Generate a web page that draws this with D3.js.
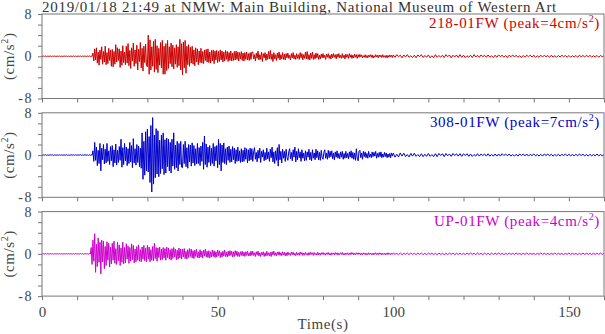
<!DOCTYPE html>
<html>
<head>
<meta charset="utf-8">
<script src="https://cdn.jsdelivr.net/npm/d3@7"></script>
<style>
  html, body { margin: 0; padding: 0; background: #fff; }
  svg { display: block; }
  text { font-family: "Liberation Serif", "Times New Roman", serif; }
</style>
</head>
<body>
<svg id="chart" width="605" height="334"></svg>
<script>
// ---------------- DATA ----------------
const titleText = "2019/01/18 21:49 at NMW: Main Building, National Museum of Western Art";
const channelNames = ["218-01FW", "308-01FW", "UP-01FW"];
const channelPeaks = [4, 7, 4];
const xTickLabels = [0, 50, 100, 150];
const yTickLabels = [-8, 0, 8];
// early part: 0 – 99.75 s sampled every 0.25 s; late part: 100 – 160 s every 0.5 s
const earlyInterval = 0.25;
const lateStart = 100;
const lateInterval = 0.5;

// 218-01FW acceleration (cm/s^2), one row = 10 s
const ch218Early = [
  0.03,-0.04,0.05,-0.02,0.04,-0.05,0.02,-0.04,0.05,-0.03,0.04,-0.05,0.03,-0.02,0.05,-0.04,0.03,-0.05,0.04,-0.03,
  0.05,-0.04,0.02,-0.05,0.04,-0.03,0.05,-0.02,0.04,-0.05,0.03,-0.04,0.05,-0.03,0.02,-0.04,0.05,-0.03,0.04,-0.05,
  0.03,-0.04,0.05,-0.03,0.04,-0.05,0.03,-0.04,0.06,-0.05,0.04,-0.06,0.05,-0.04,0.06,-0.05,0.04,-0.06,
  0.6,-0.9,1.4,-0.7,1.6,-1.3,0.8,-1.7,1.2,-0.6,1.8,-1.5,0.9,-1.1,1.9,-1.6,0.7,-1.4,1.5,-0.8,1.2,-1.9,
  1.3,-2.0,0.9,-1.5,2.2,-1.1,1.6,-0.8,1.4,-2.1,1.0,-1.7,2.0,-1.2,0.8,-1.6,1.9,-1.3,2.4,-1.8,
  1.1,-2.3,1.6,-0.9,2.5,-1.9,1.2,-1.4,2.1,-2.6,1.3,-1.0,2.6,-2.2,1.5,-2.8,1.9,-1.2,2.3,-1.7,
  -2.0,4.0,-3.4,3.1,-2.6,1.8,-1.9,2.8,-3.0,3.2,-2.5,2.0,-3.1,1.5,-1.7,2.6,-2.2,3.0,-3.4,1.9,
  -3.4,2.4,-2.7,3.0,-2.3,1.8,-1.4,2.5,-2.0,2.1,-2.4,1.6,-1.5,2.2,-2.1,1.8,-1.8,3.2,-2.6,2.4,
  -3.5,2.7,-2.2,3.0,-3.2,1.9,-1.6,2.2,-1.9,1.7,-1.3,1.9,-1.5,1.2,-1.8,1.6,-1.1,1.4,-1.6,1.0,
  -1.2,1.5,-1.3,0.9,-1.4,1.2,-0.8,1.3,-1.1,1.4,-1.2,0.8,-1.3,1.1,-0.9,1.2,-1.4,1.0,-0.7,1.1,
  -1.2,0.9,-1.0,1.2,-0.7,1.0,-1.1,0.8,-0.9,1.1,-0.6,0.9,-1.0,0.7,-0.8,1.0,-0.9,0.6,-0.8,0.9,
  -0.7,1.0,-0.6,0.8,-0.9,0.7,-0.5,0.9,-0.8,0.6,-0.9,0.7,-0.6,0.8,-0.7,0.5,-0.8,0.7,-0.6,0.8,
  0.8,-0.5,0.3,-0.9,0.6,-0.4,1.0,-0.7,0.3,-0.6,0.8,-1.0,0.5,-0.3,0.7,-0.8,0.4,-0.6,0.9,-0.5,
  1.1,-0.6,0.4,-1.0,0.7,-0.5,0.3,-0.8,0.6,-0.4,0.8,-0.7,0.3,-0.5,0.7,-0.6,0.4,-0.7,0.5,-0.3,
  0.6,-0.4,0.2,-0.7,0.5,-0.3,0.7,-0.5,0.2,-0.6,0.5,-0.4,0.3,-0.6,0.7,-0.3,0.5,-0.7,0.3,-0.4,
  0.8,-0.5,0.9,-0.6,0.3,-0.7,0.6,-0.4,0.8,-0.6,0.3,-0.5,0.6,-0.3,0.5,-0.6,0.2,-0.5,0.4,-0.3,
  0.5,-0.3,0.2,-0.6,0.4,-0.2,0.5,-0.4,0.2,-0.5,0.4,-0.3,0.5,-0.2,0.3,-0.5,0.4,-0.2,0.5,-0.3,
  0.2,-0.4,0.5,-0.3,0.2,-0.5,0.4,-0.2,0.3,-0.4,0.5,-0.2,0.3,-0.4,0.2,-0.3,0.4,-0.2,0.3,-0.4,
  0.3,-0.2,0.35,-0.1,0.25,-0.3,0.1,-0.2,0.3,-0.25,0.15,-0.3,0.2,-0.1,0.3,-0.2,0.25,-0.35,0.1,-0.2,
  0.3,-0.15,0.2,-0.3,0.25,-0.1,0.2,-0.25,0.3,-0.2,0.1,-0.25,0.2,-0.3,0.15,-0.2,0.25,-0.1,0.2,-0.25
];
const ch218Late = [
  0.25,-0.2,0.3,-0.1,0.2,-0.3,0.25,-0.15,0.3,-0.2,0.1,-0.25,0.2,-0.3,0.25,-0.1,0.3,-0.25,0.15,-0.2,
  0.25,-0.3,0.1,-0.25,0.3,-0.2,0.15,-0.2,0.2,-0.25,0.3,-0.1,0.25,-0.3,0.2,-0.15,0.25,-0.25,0.3,-0.2,
  0.2,-0.25,0.1,-0.2,0.2,-0.25,0.3,-0.15,0.2,-0.2,0.25,-0.1,0.2,-0.2,0.25,-0.2,0.1,-0.25,0.2,-0.2,
  0.25,-0.1,0.2,-0.2,0.15,-0.25,0.2,-0.1,0.25,-0.15,0.2,-0.2,0.1,-0.25,0.15,-0.2,0.2,-0.1,0.2,-0.15,
  0.2,-0.2,0.1,-0.2,0.2,-0.15,0.2,-0.1,0.15,-0.2,0.2,-0.15,0.1,-0.2,0.15,-0.15,0.2,-0.1,0.15,-0.2,
  0.15,-0.2,0.1,-0.15,0.15,-0.2,0.2,-0.1,0.15,-0.15,0.2,-0.1,0.15,-0.15,0.1,-0.15,0.15,-0.2,0.15,-0.1,
  0.1
];

// 308-01FW acceleration (cm/s^2)
const ch308Early = [
  0.05,-0.06,0.04,-0.03,0.06,-0.05,0.03,-0.06,0.05,-0.04,0.06,-0.03,0.04,-0.06,0.05,-0.04,0.03,-0.06,0.05,-0.04,
  0.06,-0.05,0.03,-0.04,0.06,-0.05,0.04,-0.03,0.06,-0.05,0.04,-0.06,0.03,-0.05,0.06,-0.04,0.05,-0.03,0.06,-0.05,
  0.04,-0.06,0.05,-0.03,0.06,-0.05,0.04,-0.06,0.05,-0.04,0.06,-0.05,0.03,-0.06,0.05,-0.04,0.06,-0.05,
  0.8,-1.2,2.4,-1.0,1.5,-2.0,0.9,-1.6,2.2,-3.0,1.3,-0.9,2.0,-1.7,1.1,-1.5,2.2,-1.2,0.8,-1.8,1.6,-1.1,
  1.8,-2.2,1.0,-1.5,2.1,-1.9,0.9,-1.4,1.6,-1.0,3.0,-2.3,1.4,-1.8,2.2,-1.1,1.5,-2.0,1.2,-1.6,
  2.4,-1.3,1.8,-2.4,3.1,-1.5,1.2,-1.9,2.0,-1.4,1.7,-2.2,1.3,-2.5,4.2,-4.6,2.6,-3.8,4.4,-3.0,
  4.9,-3.2,3.5,-5.2,5.6,-7.0,7.1,-5.5,3.8,-4.3,5.0,-3.6,4.6,-4.1,2.8,-3.5,3.8,-2.6,4.2,-3.7,
  2.9,-3.4,3.2,-2.2,3.0,-3.0,2.4,-3.4,3.0,-2.1,4.2,-2.7,1.9,-2.4,2.6,-3.0,2.2,-1.8,2.6,-2.3,
  -2.4,2.0,-1.6,2.6,-2.2,1.4,-2.5,2.0,-1.3,1.9,-2.1,2.3,-1.5,1.8,-2.0,1.2,-1.7,2.2,-1.6,1.4,
  -2.0,1.7,-1.2,2.4,-2.7,3.6,-1.8,2.1,-2.3,1.5,-1.4,1.8,-2.0,1.3,-1.6,2.2,-2.1,1.6,-1.1,1.8,
  -2.4,3.0,-1.8,2.2,-3.0,1.9,-1.4,2.3,-1.6,1.2,-1.8,1.5,-1.0,1.7,-1.4,1.1,-1.3,1.6,-0.9,1.3,
  -1.6,1.0,-1.2,1.5,-1.1,0.8,-1.4,1.2,-1.3,0.9,-1.2,1.4,-0.8,1.2,-1.5,1.0,-1.1,1.3,-0.9,1.2,
  -1.2,0.6,1.4,-0.8,0.5,-1.3,0.9,-0.6,1.3,-1.4,0.7,-0.4,1.0,-1.1,0.5,-0.9,1.3,-0.7,0.6,-1.2,
  1.1,-0.5,1.5,-1.3,0.6,-1.6,0.8,-1.0,1.4,-2.1,2.0,-0.9,0.7,-1.5,1.1,-0.6,0.7,-1.2,1.1,-0.5,
  -1.0,0.6,1.2,-0.7,0.5,-1.1,1.0,-0.4,1.5,-1.3,0.7,-0.9,1.2,-0.5,0.6,-1.2,1.0,-0.6,0.4,-1.1,
  0.8,-1.0,0.6,-0.4,1.1,-0.9,0.5,-1.1,1.0,-0.6,0.4,-0.9,1.1,-0.5,0.8,-0.9,0.5,-1.0,0.9,-0.4,
  -0.8,0.5,1.0,-0.6,0.4,-0.8,0.9,-0.5,0.7,-0.3,0.8,-0.7,0.4,-0.9,0.6,-0.4,0.8,-0.6,0.3,-0.7,
  0.6,-0.4,0.7,-0.8,0.3,-0.6,0.7,-0.5,0.3,-0.7,0.6,-0.4,0.8,-0.6,0.5,-0.8,0.4,-1.0,1.2,-0.6,
  -1.1,0.7,0.9,-0.5,0.4,-0.8,0.7,-0.3,0.6,-0.5,0.3,-0.6,0.7,-0.4,0.2,-0.5,0.6,-0.3,0.5,-0.2,
  0.7,-0.6,0.3,-0.4,0.5,-0.3,0.6,-0.5,0.2,-0.4,0.5,-0.3,0.4,-0.5,0.2,-0.4,0.3,-0.5,0.4,-0.2
];
const ch308Late = [
  0.35,-0.4,0.15,-0.35,0.4,-0.2,0.35,-0.3,0.1,-0.35,0.3,-0.2,0.35,-0.25,0.1,-0.3,0.25,-0.3,0.15,-0.25,
  0.3,-0.25,0.1,-0.3,0.25,-0.3,0.3,-0.1,0.25,-0.3,0.3,-0.15,0.2,-0.25,0.3,-0.1,0.25,-0.2,0.25,-0.25,
  0.25,-0.1,0.25,-0.25,0.2,-0.25,0.1,-0.2,0.25,-0.2,0.2,-0.1,0.2,-0.2,0.25,-0.2,0.1,-0.2,0.2,-0.2,
  0.2,-0.2,0.25,-0.1,0.2,-0.15,0.2,-0.2,0.1,-0.2,0.15,-0.2,0.2,-0.1,0.2,-0.15,0.2,-0.2,0.15,-0.1,
  0.2,-0.15,0.1,-0.2,0.15,-0.2,0.2,-0.1,0.2,-0.15,0.15,-0.2,0.1,-0.15,0.15,-0.2,0.15,-0.1,0.2,-0.15,
  0.15,-0.15,0.1,-0.15,0.15,-0.15,0.2,-0.1,0.15,-0.15,0.1,-0.2,0.15,-0.15,0.1,-0.15,0.2,-0.15,0.1,-0.15,
  0.1
];

// UP-01FW acceleration (cm/s^2)
const chUPEarly = [
  0.04,-0.05,0.03,-0.04,0.05,-0.03,0.04,-0.05,0.03,-0.04,0.05,-0.04,0.03,-0.05,0.04,-0.03,0.05,-0.04,0.03,-0.04,
  0.05,-0.03,0.04,-0.05,0.03,-0.04,0.05,-0.04,0.03,-0.05,0.04,-0.03,0.05,-0.04,0.03,-0.05,0.04,-0.03,0.05,-0.04,
  0.03,-0.05,0.04,-0.03,0.05,-0.04,0.03,-0.05,0.04,-0.03,0.05,-0.04,0.03,-0.05,0.04,-0.03,
  1.2,-2.0,2.6,-1.4,3.8,-3.5,1.8,-2.4,3.0,-1.6,2.2,-3.8,2.6,-1.5,2.4,-2.8,1.4,-2.2,2.3,-1.2,2.0,-2.5,1.3,-1.9,
  2.0,-1.2,2.4,-1.8,1.0,-2.0,2.2,-1.3,1.7,-2.2,1.1,-1.6,2.2,-1.9,1.2,-1.7,1.9,-1.0,1.5,-1.8,
  1.2,-1.4,1.9,-1.1,1.6,-1.7,0.9,-1.5,1.4,-1.2,1.7,-1.4,0.8,-1.5,1.3,-1.0,1.6,-1.3,1.1,-1.5,
  1.6,-1.0,1.3,-1.5,0.8,-1.2,1.4,-1.3,2.0,-0.9,1.2,-1.4,1.1,-0.7,1.3,-1.2,0.9,-1.1,1.2,-0.8,
  1.0,-1.2,1.3,-0.7,1.1,-1.0,0.8,-1.2,1.0,-0.9,1.2,-0.6,0.9,-1.1,0.7,-1.0,1.1,-0.8,0.9,-1.0,
  0.9,-0.6,1.0,-0.9,0.5,-1.0,0.8,-0.7,1.0,-0.5,0.9,-0.8,0.6,-0.9,0.7,-0.5,0.9,-0.7,0.4,-0.8,
  0.8,-0.6,0.5,-0.8,0.7,-0.4,0.9,-0.6,0.5,-0.7,0.6,-0.8,0.4,-0.6,0.7,-0.5,0.6,-0.7,0.4,-0.6,
  0.7,-0.4,0.6,-0.7,0.3,-0.6,0.5,-0.4,0.7,-0.5,0.3,-0.6,0.5,-0.4,0.6,-0.3,0.5,-0.6,0.4,-0.5,
  0.6,-0.3,0.5,-0.5,0.3,-0.5,0.4,-0.3,0.5,-0.4,0.3,-0.5,0.4,-0.3,0.5,-0.4,0.2,-0.4,0.5,-0.3,
  0.5,-0.3,0.2,-0.5,0.4,-0.2,0.5,-0.4,0.2,-0.5,0.3,-0.2,0.4,-0.5,0.2,-0.4,0.5,-0.3,0.2,-0.4,
  0.3,-0.5,0.4,-0.2,0.5,-0.3,0.2,-0.4,0.35,-0.2,0.4,-0.3,0.2,-0.35,0.4,-0.2,0.3,-0.4,0.2,-0.35,
  0.35,-0.2,0.1,-0.3,0.35,-0.15,0.3,-0.25,0.1,-0.35,0.3,-0.2,0.15,-0.3,0.35,-0.1,0.25,-0.3,0.15,-0.25,
  0.3,-0.15,0.1,-0.3,0.25,-0.2,0.3,-0.1,0.2,-0.3,0.25,-0.15,0.1,-0.25,0.3,-0.2,0.15,-0.25,0.2,-0.1,
  0.25,-0.15,0.1,-0.25,0.2,-0.1,0.25,-0.2,0.1,-0.25,0.2,-0.1,0.15,-0.2,0.25,-0.1,0.2,-0.25,0.1,-0.15,
  0.2,-0.1,0.25,-0.2,0.1,-0.2,0.15,-0.1,0.2,-0.2,0.1,-0.15,0.25,-0.1,0.2,-0.2,0.1,-0.15,0.2,-0.1,
  0.2,-0.1,0.15,-0.2,0.1,-0.15,0.2,-0.1,0.15,-0.2,0.1,-0.15,0.2,-0.1,0.15,-0.15,0.1,-0.2,0.15,-0.1,
  0.2,-0.15,0.1,-0.15,0.2,-0.1,0.15,-0.2,0.1,-0.1,0.15,-0.2,0.1,-0.15,0.2,-0.1,0.1,-0.15,0.15,-0.1
];
const chUPLate = [
  0.15,-0.1,0.1,-0.15,0.15,-0.15,0.1,-0.1,0.15,-0.15,0.15,-0.1,0.1,-0.15,0.15,-0.1,0.15,-0.15,0.1,-0.15,
  0.15,-0.1,0.15,-0.15,0.1,-0.15,0.15,-0.1,0.1,-0.15,0.1,-0.15,0.15,-0.1,0.15,-0.15,0.1,-0.1,0.15,-0.15,
  0.1,-0.15,0.15,-0.1,0.15,-0.1,0.1,-0.15,0.15,-0.1,0.1,-0.15,0.15,-0.1,0.1,-0.15,0.15,-0.1,0.1,-0.1,
  0.15,-0.1,0.1,-0.15,0.1,-0.1,0.15,-0.1,0.1,-0.1,0.15,-0.1,0.1,-0.15,0.1,-0.1,0.15,-0.1,0.1,-0.1,
  0.1,-0.15,0.1,-0.1,0.15,-0.1,0.1,-0.1,0.1,-0.15,0.1,-0.1,0.15,-0.1,0.1,-0.1,0.1,-0.15,0.1,-0.1,
  0.15,-0.1,0.1,-0.1,0.1,-0.15,0.1,-0.1,0.15,-0.1,0.1,-0.1,0.1,-0.15,0.1,-0.1,0.1,-0.1,0.15,-0.1,
  0.1
];

const seriesEarly = [ch218Early, ch308Early, chUPEarly];
const seriesLate = [ch218Late, ch308Late, chUPLate];
const seriesColors = ["#cc0000", "#0000cc", "#cc00cc"];

// ---------------- LAYOUT ----------------
const svg = d3.select("#chart");
const plotLeft = 42, plotRight = 604;
const panelTop0 = 14, panelStep = 98.8, panelHeight = 84.5;
const axisColor = "#777";
const textColor = "#444";

const x = d3.scaleLinear().domain([0, 160]).range([plotLeft, plotRight]);

function fitWidth(sel, target) {
  const node = sel.node();
  const n = node.getNumberOfChars();
  const len = node.getComputedTextLength();
  if (n > 1) sel.attr("letter-spacing", ((target - len) / n).toFixed(3));
}

// Title
const title = svg.append("text")
  .attr("x", plotLeft).attr("y", 11.5)
  .attr("font-size", 15).attr("fill", "#333")
  .text(titleText);
fitWidth(title, 515);

const labelWidths = [171, 170, 166];

seriesEarly.forEach((early, k) => {
  const points = early.map((v, i) => [i * earlyInterval, v])
    .concat(seriesLate[k].map((v, j) => [lateStart + j * lateInterval, v]));
  const top = panelTop0 + k * panelStep;
  const bottom = top + panelHeight;
  const y = d3.scaleLinear().domain([-8, 8]).range([bottom, top]);
  const g = svg.append("g");

  const clipId = "clip" + k;
  svg.append("clipPath").attr("id", clipId)
    .append("rect").attr("x", plotLeft).attr("y", top)
    .attr("width", plotRight - plotLeft).attr("height", panelHeight);

  const line = d3.line().x(d => x(d[0])).y(d => y(d[1]));
  g.append("path")
    .datum(points)
    .attr("clip-path", "url(#" + clipId + ")")
    .attr("d", line)
    .attr("fill", "none")
    .attr("stroke", seriesColors[k])
    .attr("stroke-width", 1);

  g.append("rect")
    .attr("x", plotLeft).attr("y", top)
    .attr("width", plotRight - plotLeft).attr("height", panelHeight)
    .attr("fill", "none").attr("stroke", axisColor).attr("stroke-width", 1);

  const yAxis = d3.axisLeft(y)
    .tickValues(d3.range(-8, 9, 2))
    .tickSize(4).tickPadding(5)
    .tickFormat(d => yTickLabels.includes(d) ? String(d) : "");
  const ya = g.append("g").attr("transform", `translate(${plotLeft},0)`).call(yAxis);
  ya.select(".domain").remove();
  ya.selectAll("line").attr("stroke", axisColor);
  ya.selectAll("text").attr("font-size", 14).attr("fill", textColor)
    .attr("font-family", "Liberation Serif, serif").attr("letter-spacing", 1.5);

  const xAxis = d3.axisBottom(x)
    .tickValues(d3.range(0, 161, 10))
    .tickSize(4).tickPadding(6)
    .tickFormat(d => (k === 2 && xTickLabels.includes(d)) ? String(d) : "");
  const xa = g.append("g").attr("transform", `translate(0,${bottom})`).call(xAxis);
  xa.select(".domain").remove();
  xa.selectAll("line").attr("stroke", axisColor);
  xa.selectAll("text").attr("font-size", 15).attr("fill", textColor)
    .attr("font-family", "Liberation Serif, serif");

  const yl = g.append("text")
    .attr("transform", `translate(14,${(top + bottom) / 2}) rotate(-90)`)
    .attr("text-anchor", "middle")
    .attr("font-size", 15).attr("fill", textColor)
    .attr("letter-spacing", 0.6);
  yl.append("tspan").text("(cm/s");
  yl.append("tspan").attr("font-size", 10).attr("dy", -6).text("2");
  yl.append("tspan").attr("dy", 6).text(")");

  const lbl = g.append("text")
    .attr("x", 600).attr("y", top + 14)
    .attr("text-anchor", "end")
    .attr("font-size", 15).attr("fill", seriesColors[k]);
  lbl.append("tspan").text(`${channelNames[k]} (peak=${channelPeaks[k]}cm/s`);
  lbl.append("tspan").attr("font-size", 10).attr("dy", -6).text("2");
  lbl.append("tspan").attr("dy", 6).text(")");
  fitWidth(lbl, labelWidths[k]);
});

svg.append("text")
  .attr("x", (plotLeft + plotRight) / 2).attr("y", 329)
  .attr("text-anchor", "middle")
  .attr("font-size", 15).attr("fill", textColor)
  .attr("letter-spacing", 0.6)
  .text("Time(s)");
</script>
</body>
</html>
